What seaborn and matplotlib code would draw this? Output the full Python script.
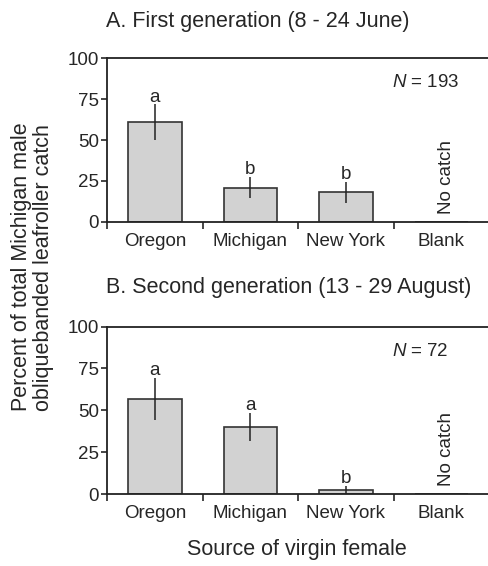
import pandas as pd
import seaborn as sns
import matplotlib.pyplot as plt

# data
sources = ['Oregon', 'Michigan', 'New York', 'Blank']
gen1_pct = [61, 21, 18, 0]
gen1_err = [11, 6.5, 6.5, 0]
gen1_letters = ['a', 'b', 'b', '']
gen2_pct = [57, 40, 2.5, 0]
gen2_err = [12.5, 8.5, 2.5, 0]
gen2_letters = ['a', 'a', 'b', '']
n_catch = [193, 72]
titles = ['A. First generation (8 - 24 June)', 'B. Second generation (13 - 29 August)']

sns.set_style('ticks')
plt.rcParams['font.family'] = ['Liberation Sans', 'DejaVu Sans']
plt.rcParams['mathtext.fontset'] = 'custom'
plt.rcParams['mathtext.it'] = 'Liberation Sans:italic'
plt.rcParams['mathtext.rm'] = 'Liberation Sans'

fig = plt.figure(figsize=(4.89, 5.66), dpi=100)
ax1 = fig.add_axes([0.219, 0.608, 0.781, 0.289])
ax2 = fig.add_axes([0.219, 0.127, 0.781, 0.296])

panels = [
    (ax1, gen1_pct, gen1_err, gen1_letters, n_catch[0], titles[0], 0.952),
    (ax2, gen2_pct, gen2_err, gen2_letters, n_catch[1], titles[1], 0.482),
]

for ax, pct, err, letters, n, title, ty in panels:
    df = pd.DataFrame({'source': sources, 'pct': pct})
    sns.barplot(data=df, x='source', y='pct', ax=ax, color='#d2d2d2',
                edgecolor='#333333', linewidth=1.2, width=0.56, saturation=1)
    xs = range(len(sources))
    ax.errorbar(xs[:3], pct[:3], yerr=err[:3], fmt='none', ecolor='#222222',
                elinewidth=1.1, capsize=0)
    for x, p, e, lab in zip(xs, pct, err, letters):
        if lab:
            ax.text(x, p + e + 1.5, lab, ha='center', va='baseline', fontsize=13.5)
    ax.text(3.06, 5, 'No catch', rotation=90, ha='center', va='bottom', fontsize=13.5)
    ax.text(2.48, 85, r'$\it{N}$ = %d' % n, ha='left', va='center', fontsize=13.5)

    ax.set_xlim(-0.5, 3.5)
    ax.set_ylim(0, 100)
    ax.set_yticks([0, 25, 50, 75, 100])
    ax.set_xticks([-0.5, 0.5, 1.5, 2.5])
    ax.set_xticklabels([])
    ax.set_xticks(range(4), minor=True)
    ax.set_xticklabels(sources, minor=True, fontsize=13.5)
    ax.tick_params(axis='x', which='minor', length=0, pad=8)
    ax.tick_params(axis='x', which='major', length=5, width=1.2, direction='out')
    ax.tick_params(axis='y', length=4, width=1.2, direction='out', labelsize=13.5, pad=2)
    ax.set_xlabel('')
    ax.set_ylabel('')
    for s in ['left', 'bottom', 'top']:
        ax.spines[s].set_linewidth(1.3)
        ax.spines[s].set_color('#222222')
    ax.spines['right'].set_visible(False)
    fig.text(0.217, ty, title, ha='left', va='baseline', fontsize=15.5)

fig.text(0.067, 0.528, 'Percent of total Michigan male\nobliquebanded leafroller catch',
         rotation=90, ha='center', va='center', fontsize=15.5, linespacing=1.05)
fig.text(0.608, 0.0194, 'Source of virgin female', ha='center', va='baseline', fontsize=15.5)

fig.savefig('out.png', dpi=100)
